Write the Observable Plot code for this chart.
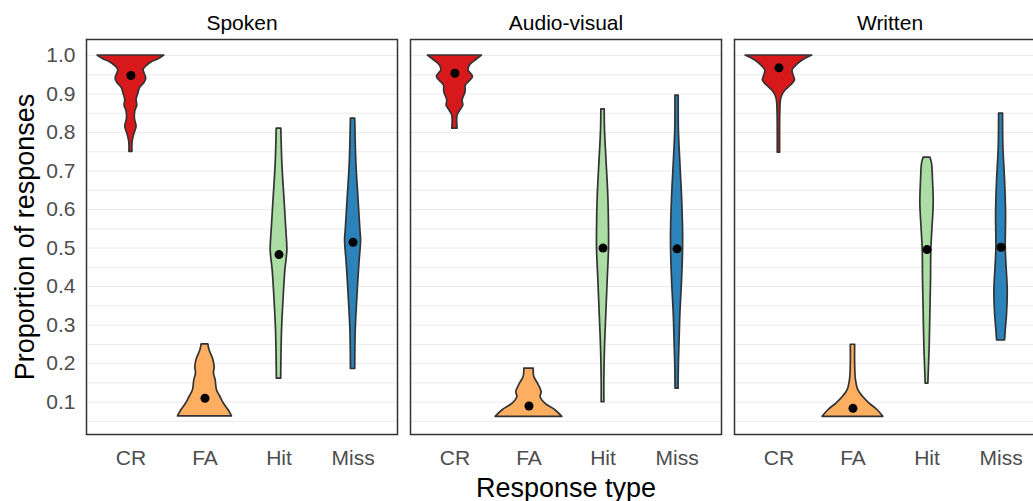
<!DOCTYPE html>
<html><head><meta charset="utf-8">
<script src="https://cdn.jsdelivr.net/npm/d3@7"></script>
<script src="https://cdn.jsdelivr.net/npm/@observablehq/plot@0.6"></script>
<style>
html,body{margin:0;padding:0;background:#fff;overflow:hidden;}
#chart svg{max-width:none !important;}
</style></head><body><div id="chart"></div>
<script>
const panels = ["Spoken", "Audio-visual", "Written"];
const types = ["CR", "FA", "Hit", "Miss"];
const fills = ["#d7191c", "#fdae61", "#abdda4", "#2b83ba"];
const yTicks = [0.1, 0.2, 0.3, 0.4, 0.5, 0.6, 0.7, 0.8, 0.9, 1.0];
const gridTicks = [0.05, 0.1, 0.15, 0.2, 0.25, 0.3, 0.35, 0.4, 0.45, 0.5, 0.55, 0.6, 0.65, 0.7, 0.75, 0.8, 0.85, 0.9, 0.95, 1.0];

// violin profiles: [proportion, relative density (1 = widest violin)]
const spokenCR = [[1.0,1.0],[0.991,0.84],[0.983,0.64],[0.974,0.49],[0.963,0.38],[0.955,0.40],[0.940,0.46],[0.928,0.40],[0.915,0.27],[0.900,0.22],[0.885,0.17],[0.870,0.19],[0.855,0.13],[0.835,0.12],[0.815,0.17],[0.795,0.10],[0.775,0.05],[0.75,0.045]];
const spokenFA = [[0.250,0.10],[0.234,0.14],[0.213,0.24],[0.191,0.29],[0.174,0.27],[0.157,0.32],[0.131,0.36],[0.114,0.46],[0.097,0.56],[0.079,0.71],[0.063,0.81]];
const spokenHit = [[0.810,0.07],[0.719,0.10],[0.632,0.16],[0.546,0.22],[0.494,0.25],[0.442,0.19],[0.373,0.14],[0.286,0.09],[0.199,0.07],[0.161,0.065]];
const spokenMiss = [[0.836,0.065],[0.719,0.10],[0.632,0.16],[0.546,0.22],[0.520,0.24],[0.459,0.19],[0.373,0.13],[0.286,0.08],[0.186,0.065]];

const avCR = [[1.0,0.81],[0.987,0.62],[0.974,0.45],[0.961,0.41],[0.944,0.54],[0.922,0.33],[0.905,0.32],[0.883,0.23],[0.870,0.25],[0.857,0.16],[0.844,0.08],[0.810,0.08]];
const avFA = [[0.187,0.14],[0.165,0.16],[0.148,0.27],[0.126,0.38],[0.113,0.35],[0.096,0.49],[0.079,0.79],[0.062,1.0]];
const avHit = [[0.860,0.05],[0.805,0.06],[0.719,0.11],[0.632,0.16],[0.546,0.18],[0.498,0.18],[0.416,0.14],[0.330,0.10],[0.243,0.06],[0.157,0.04],[0.100,0.04]];
const avMiss = [[0.896,0.05],[0.805,0.055],[0.719,0.10],[0.632,0.15],[0.546,0.18],[0.498,0.18],[0.416,0.15],[0.330,0.10],[0.243,0.07],[0.200,0.055],[0.135,0.045]];

const writtenCR = [[1.0,1.0],[0.987,0.71],[0.974,0.53],[0.961,0.41],[0.948,0.44],[0.935,0.48],[0.922,0.36],[0.909,0.20],[0.896,0.10],[0.883,0.06],[0.849,0.04],[0.805,0.035],[0.748,0.035]];
const writtenFA = [[0.249,0.065],[0.200,0.065],[0.157,0.09],[0.131,0.16],[0.114,0.30],[0.097,0.49],[0.079,0.74],[0.062,0.91]];
const writtenHit = [[0.735,0.10],[0.719,0.15],[0.675,0.18],[0.615,0.20],[0.546,0.16],[0.498,0.13],[0.416,0.12],[0.330,0.10],[0.243,0.08],[0.183,0.055],[0.148,0.04]];
const writtenMiss = [[0.849,0.06],[0.762,0.07],[0.675,0.12],[0.589,0.15],[0.502,0.14],[0.459,0.16],[0.390,0.20],[0.330,0.18],[0.286,0.14],[0.260,0.12]];

const meanSpoken = [0.948, 0.110, 0.483, 0.515];
const meanAudioVisual = [0.954, 0.090, 0.500, 0.498];
const meanWritten = [0.968, 0.084, 0.496, 0.502];

const profiles = [
  [spokenCR, spokenFA, spokenHit, spokenMiss],
  [avCR, avFA, avHit, avMiss],
  [writtenCR, writtenFA, writtenHit, writtenMiss]
];
const means = [meanSpoken, meanAudioVisual, meanWritten];
const HALF = 0.45;

const rows = [];
const meanRows = [];
panels.forEach((p, pi) => types.forEach((t, ti) => {
  profiles[pi][ti].forEach(([v, d]) => rows.push({panel: p, type: t, key: p + t, y: v, x1: ti + 1 - d * HALF, x2: ti + 1 + d * HALF}));
  meanRows.push({panel: p, type: t, x: ti + 1, y: means[pi][ti]});
}));

const chart = Plot.plot({
  width: 1046, height: 501,
  marginLeft: 85, marginRight: 1, marginTop: 39, marginBottom: 67,
  style: {fontFamily: "'Liberation Sans', Arial, sans-serif", background: "white", overflow: "visible"},
  fx: {domain: panels, paddingInner: 0.0416, paddingOuter: 0, label: null},
  x: {domain: [0.4, 4.6], axis: null},
  y: {domain: [0.016, 1.0415], axis: null},
  color: {domain: types, range: fills},
  marks: [
    Plot.gridY(gridTicks, {stroke: "#ebebeb", strokeOpacity: 1, strokeWidth: 1}),
    Plot.areaX(rows, {fx: "panel", y: "y", x1: "x1", x2: "x2", z: "key", fill: "type", stroke: "#333333", strokeWidth: 1.7, strokeLinejoin: "round", curve: "catmull-rom"}),
    Plot.dot(meanRows, {fx: "panel", x: "x", y: "y", r: 4.5, fill: "black"}),
    Plot.frame({stroke: "#333333", strokeWidth: 1.5}),
    Plot.axisX([1, 2, 3, 4], {tickFormat: i => types[i - 1], tickSize: 0, tickPadding: 16, fontSize: 21, fill: "#4d4d4d", label: null}),
    Plot.axisY(yTicks, {tickFormat: d3.format(".1f"), tickSize: 0, tickPadding: 11, fontSize: 21, fill: "#4d4d4d", label: null}),
    Plot.axisFx({anchor: "top", tickSize: 0, tickPadding: 10, fontSize: 21, fill: "black", label: null}),
    Plot.text(["Response type"], {fx: ["Audio-visual"], frameAnchor: "bottom", lineAnchor: "top", dy: 43, fontSize: 27, fill: "black"}),
    Plot.text(["Proportion of responses"], {fx: ["Spoken"], frameAnchor: "left", textAnchor: "middle", dx: -61, rotate: -90, fontSize: 27, fill: "black"})
  ]
});
document.getElementById("chart").appendChild(chart);
</script></body></html>
